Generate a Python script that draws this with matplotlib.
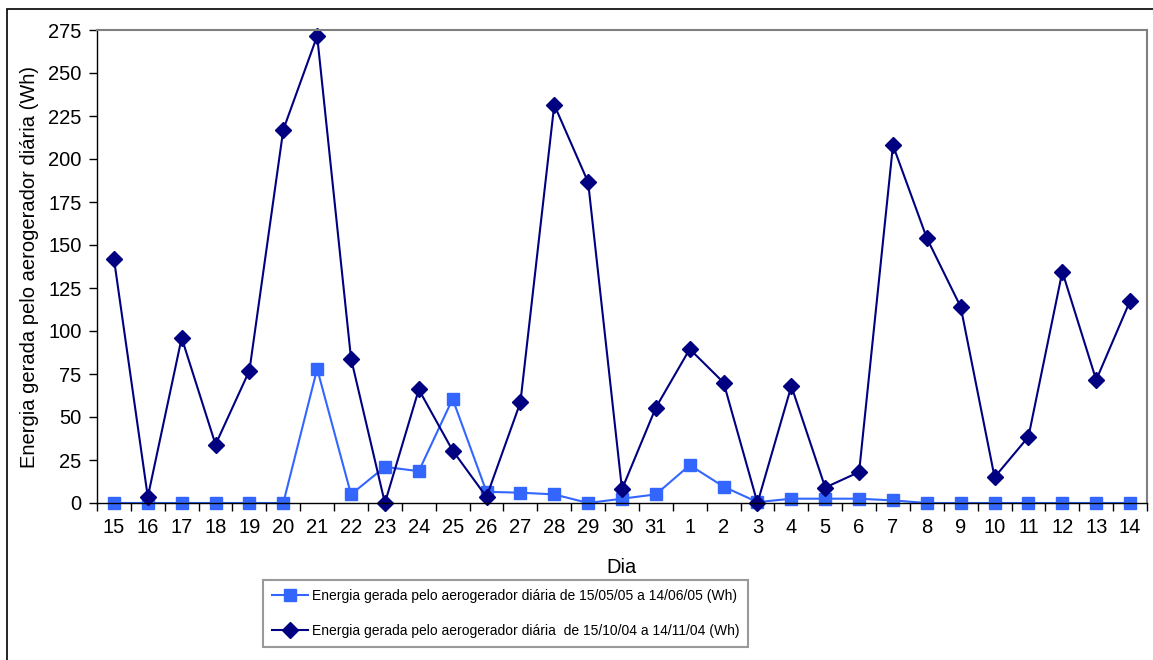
import numpy as np
import matplotlib
matplotlib.use("Agg")
import matplotlib.pyplot as plt
from matplotlib.patches import Rectangle

plt.rcParams['font.family'] = ['Liberation Sans', 'DejaVu Sans']

# dias (15/05 a 14/06 e 15/10 a 14/11)
dias = ['15', '16', '17', '18', '19', '20', '21', '22', '23', '24', '25', '26',
        '27', '28', '29', '30', '31', '1', '2', '3', '4', '5', '6', '7', '8',
        '9', '10', '11', '12', '13', '14']

energia_2005 = [0, 0, 0, 0, 0, 0, 78, 5, 21, 18.5, 60.5, 6.5,
                6, 5, 0, 2.5, 5, 22, 9.5, 0.5, 2.5, 2.5, 2.5, 1.5, 0,
                0, 0, 0, 0, 0, 0]

energia_2004 = [142, 3.5, 96, 34, 77, 217, 271.5, 84, 0, 66, 30.5, 3.5,
                58.5, 231.5, 186.5, 8, 55.5, 89.5, 70, 0, 68, 9, 18, 208, 154,
                114, 15, 38.5, 134.5, 71.5, 117.5]

lbl_2005 = 'Energia gerada pelo aerogerador diária de 15/05/05 a 14/06/05 (Wh)'
lbl_2004 = 'Energia gerada pelo aerogerador diária  de 15/10/04 a 14/11/04 (Wh)'

W, H = 1153, 660
fig = plt.figure(figsize=(W / 100, H / 100), dpi=100)
ax = fig.add_axes([97 / W, 1 - 503 / H, (1147 - 97) / W, (503 - 30) / H])

x = np.arange(len(dias))
ax.plot(x, energia_2005, '-s', color='#3366FF', lw=1.5, ms=8, label=lbl_2005)
ax.plot(x, energia_2004, '-D', color='#000080', lw=1.5, ms=8, label=lbl_2004)

ax.set_xlim(-0.5, len(dias) - 0.5)
ax.set_ylim(0, 275)
ax.set_yticks(np.arange(0, 276, 25))
ax.set_xticks(x)
ax.set_xticklabels(dias)
ax.set_xticks(np.arange(-0.5, len(dias), 1), minor=True)
ax.tick_params(axis='x', which='major', length=0, pad=11, labelsize=14.5)
ax.tick_params(axis='x', which='minor', length=6, direction='out', width=1)
ax.tick_params(axis='y', length=6, direction='out', width=1, labelsize=14.5, pad=5)

for s in ['top', 'right']:
    ax.spines[s].set_color('#808080')
    ax.spines[s].set_linewidth(1.5)
for s in ['left', 'bottom']:
    ax.spines[s].set_color('black')
    ax.spines[s].set_linewidth(1)
for ln in ax.lines:
    ln.set_clip_on(False)

ax.set_xlabel('Dia', fontsize=14.5, labelpad=15)
ax.set_ylabel('Energia gerada pelo aerogerador diária (Wh)', fontsize=14.5, labelpad=7)

leg = fig.legend(loc='upper left', bbox_to_anchor=(263 / W, 1 - 580 / H),
                 fontsize=10, frameon=True, fancybox=False, handlelength=2.6,
                 borderpad=0.65, labelspacing=1.5, handletextpad=0.25,
                 borderaxespad=0)
leg.get_frame().set_edgecolor('#808080')
leg.get_frame().set_linewidth(1.5)

# borda externa do gráfico
fig.patches.append(Rectangle((7 / W, -0.1), 1.2, 1 - 9 / H + 0.1,
                             transform=fig.transFigure, fill=False,
                             edgecolor='black', lw=1.2))

fig.savefig('out.png', dpi=100)
